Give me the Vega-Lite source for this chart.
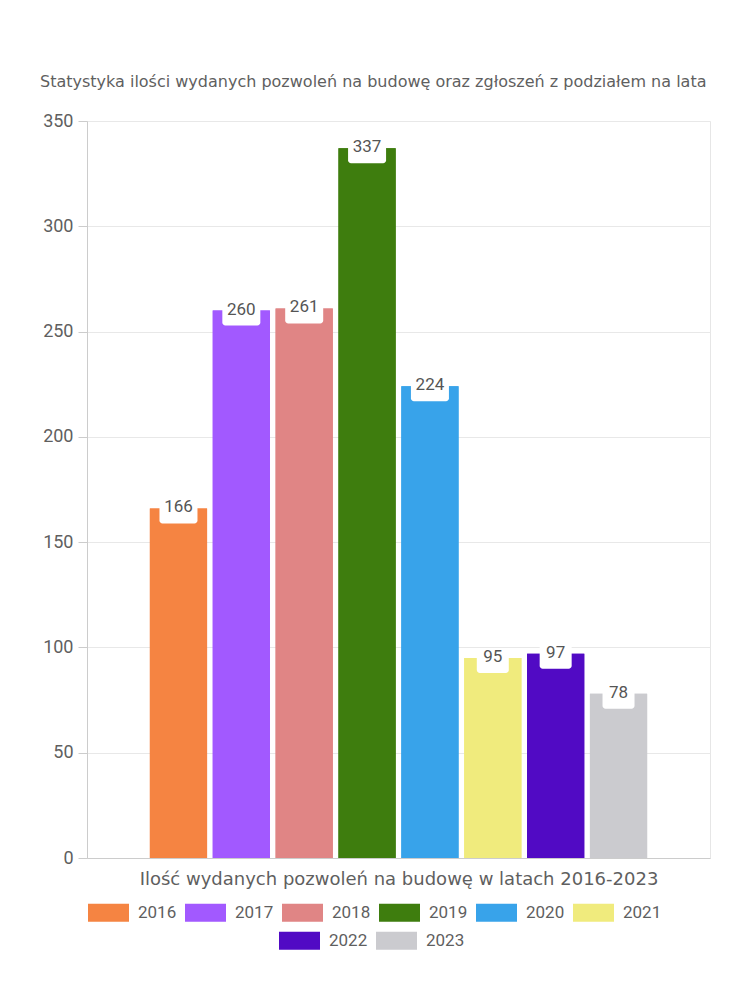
{
  "$schema": "https://vega.github.io/schema/vega-lite/v6.json",
  "width": 623,
  "height": 737,
  "autosize": {"type": "none"},
  "padding": {"left": 87, "top": 121, "right": 40, "bottom": 142},
  "background": "white",
  "title": {
    "text": "Statystyka ilości wydanych pozwoleń na budowę oraz zgłoszeń z podziałem na lata",
    "anchor": "start",
    "frame": "group",
    "dx": -47,
    "offset": 22,
    "font": "DejaVu Sans",
    "fontSize": 16,
    "fontWeight": "normal",
    "color": "#5f5f5f"
  },
  "data": {
    "values": [
      {"year": "2016", "value": 166},
      {"year": "2017", "value": 260},
      {"year": "2018", "value": 261},
      {"year": "2019", "value": 337},
      {"year": "2020", "value": 224},
      {"year": "2021", "value": 95},
      {"year": "2022", "value": 97},
      {"year": "2023", "value": 78}
    ]
  },
  "encoding": {
    "x": {
      "field": "year",
      "type": "nominal",
      "sort": null,
      "scale": {"paddingInner": 0.09, "paddingOuter": 1.03},
      "axis": {
        "title": "Ilość wydanych pozwoleń na budowę w latach 2016-2023",
        "labels": false,
        "ticks": false,
        "domainColor": "#cccccc",
        "titleFont": "DejaVu Sans",
        "titleFontSize": 18,
        "titleFontWeight": "normal",
        "titleColor": "#5f5f5f",
        "titlePadding": 12
      }
    },
    "y": {
      "field": "value",
      "type": "quantitative",
      "scale": {"domain": [0, 350], "nice": false},
      "axis": {
        "title": null,
        "values": [0, 50, 100, 150, 200, 250, 300, 350],
        "labelFont": "Roboto",
        "labelFontSize": 18,
        "labelColor": "#5f5f5f",
        "labelPadding": 5,
        "tickColor": "#cccccc",
        "tickSize": 9,
        "domainColor": "#cccccc",
        "gridColor": "#e8e8e8"
      }
    }
  },
  "layer": [
    {
      "mark": {"type": "bar"},
      "encoding": {
        "y": {"field": "value", "type": "quantitative", "stack": null},
        "color": {
          "field": "year",
          "type": "nominal",
          "sort": null,
          "scale": {
            "domain": ["2016", "2017", "2018", "2019", "2020", "2021", "2022", "2023"],
            "range": ["#F58442", "#A259FF", "#E08585", "#3E7D0E", "#38A3EA", "#F0EB7D", "#510AC4", "#CBCBCF"]
          },
          "legend": {
            "values": ["2016", "2017", "2018", "2019", "2020", "2021"],
            "title": null,
            "orient": "none",
            "direction": "horizontal",
            "legendX": 1,
            "legendY": 771
          }
        }
      }
    },
    {
      "mark": {"type": "bar"},
      "encoding": {
        "y": {"field": "value", "type": "quantitative", "stack": null},
        "color": {
          "field": "year",
          "type": "nominal",
          "sort": null,
          "scale": {
            "domain": ["2016", "2017", "2018", "2019", "2020", "2021", "2022", "2023"],
            "range": ["#F58442", "#A259FF", "#E08585", "#3E7D0E", "#38A3EA", "#F0EB7D", "#510AC4", "#CBCBCF"]
          },
          "legend": {
            "values": ["2022", "2023"],
            "title": null,
            "orient": "none",
            "direction": "horizontal",
            "legendX": 192,
            "legendY": 799
          }
        }
      }
    },
    {
      "mark": {"type": "bar", "fill": "white", "cornerRadius": 3, "yOffset": -10, "y2Offset": 15},
      "encoding": {
        "y": {"field": "value", "type": "quantitative", "stack": null},
        "y2": {"field": "value"},
        "size": {"condition": {"test": "datum.value >= 100", "value": 38}, "value": 32}
      }
    },
    {
      "mark": {"type": "text", "baseline": "middle", "dy": -1, "font": "Roboto", "fontSize": 17, "color": "#555555"},
      "encoding": {
        "text": {"field": "value", "type": "quantitative"}
      }
    }
  ],
  "resolve": {"scale": {"color": "independent"}, "legend": {"color": "independent"}},
  "config": {
    "view": {"stroke": "#e6e6e6"},
    "legend": {
      "symbolType": "M-1,-0.44L1,-0.44L1,0.44L-1,0.44Z",
      "symbolSize": 1681,
      "symbolStrokeWidth": 0,
      "labelFont": "Roboto",
      "labelFontSize": 17,
      "labelColor": "#5f5f5f",
      "labelOffset": 9,
      "columnPadding": 8,
      "symbolOpacity": 1
    }
  }
}
